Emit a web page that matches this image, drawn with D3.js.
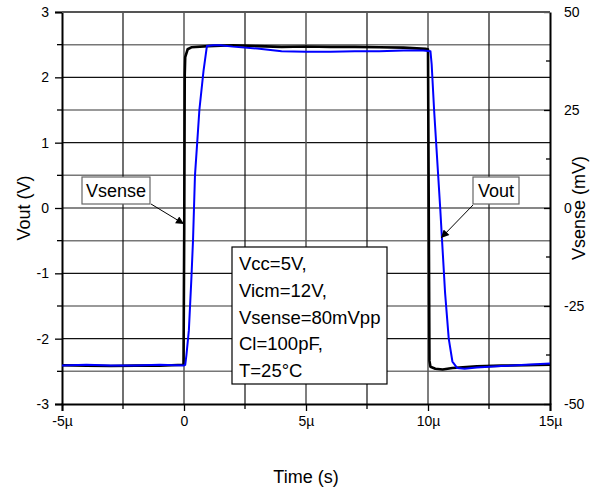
<!DOCTYPE html>
<html>
<head>
<meta charset="utf-8">
<script src="https://cdn.jsdelivr.net/npm/d3@7"></script>
<style>
  body { margin: 0; background: #fff; }
  svg text { font-family: "Liberation Sans", Arial, sans-serif; fill: #000; }
</style>
</head>
<body>
<svg id="chart" width="598" height="493"></svg>
<script>
// time in microseconds
const vsenseTime = [-5, -4, -3, -2, -1, -0.5, -0.02, 0.01, 0.03, 0.05, 0.15, 0.3, 1, 2, 3, 4, 5, 6, 7, 8, 9, 9.9, 10.0, 10.03, 10.06, 10.1, 10.3, 10.6, 11, 12, 13, 14, 15];
// Vsense in mV (right axis)
const vsenseValues = [-40.1, -40.2, -40.3, -40.2, -40.2, -40.1, -40.0, -5, 34, 38.5, 40.5, 41.0, 41.3, 41.5, 41.3, 41.1, 41.2, 41.1, 41.1, 41.0, 40.9, 40.6, 40.5, 0, -39, -40.5, -41.0, -41.2, -40.8, -40.4, -40.2, -40.1, -40.0];

const voutTime = [-5, -4, -3, -2, -1, 0, 0.05, 0.1, 0.2, 0.3, 0.37, 0.45, 0.55, 0.63, 0.8, 0.94, 1.2, 1.5, 2, 3, 4, 5, 6, 7, 8, 9, 9.8, 10.1, 10.15, 10.25, 10.5, 10.7, 10.85, 11.0, 11.2, 11.5, 12, 13, 14, 15];
// Vout in V (left axis)
const voutValues = [-2.41, -2.40, -2.41, -2.41, -2.40, -2.41, -2.40, -2.25, -1.87, -1.1, -0.49, 0.5, 1.05, 1.5, 2.1, 2.48, 2.49, 2.49, 2.47, 2.44, 2.40, 2.39, 2.39, 2.40, 2.40, 2.41, 2.41, 2.40, 2.2, 1.5, 0, -1.3, -2.0, -2.35, -2.45, -2.46, -2.44, -2.42, -2.40, -2.38];

const xTicks = [-5, 0, 5, 10, 15];
const xTickLabels = ['-5µ', '0', '5µ', '10µ', '15µ'];
const xMinor = [-2.5, 2.5, 7.5, 12.5];
const yLeftTicks = [-3, -2, -1, 0, 1, 2, 3];
const yLeftMinor = [-2.5, -1.5, -0.5, 0.5, 1.5, 2.5];
const yRightTicks = [-50, -25, 0, 25, 50];
const yRightMinor = [-37.5, -12.5, 12.5, 37.5];

const conditions = ['Vcc=5V,', 'Vicm=12V,', 'Vsense=80mVpp', 'Cl=100pF,', 'T=25°C'];

const svg = d3.select('#chart');
const m = { left: 62, right: 550, top: 12, bottom: 404 };

const x = d3.scaleLinear().domain([-5, 15]).range([m.left, m.right]);
const yL = d3.scaleLinear().domain([-3, 3]).range([m.bottom, m.top]);
const yR = d3.scaleLinear().domain([-50, 50]).range([m.bottom, m.top]);

// plain hyphen for negatives, like the original
const fmt = d => String(d);

// grid
const grid = svg.append('g').attr('class', 'grid');
grid.selectAll('line.hmaj').data(yLeftTicks.slice(1, -1)).join('line').classed('hmaj', true)
  .attr('x1', m.left).attr('x2', m.right).attr('y1', d => yL(d)).attr('y2', d => yL(d))
  .attr('stroke', '#111').attr('stroke-width', 1.2);
grid.selectAll('line.hmin').data(yLeftMinor).join('line').classed('hmin', true)
  .attr('x1', m.left).attr('x2', m.right).attr('y1', d => yL(d)).attr('y2', d => yL(d))
  .attr('stroke', '#777').attr('stroke-width', 1.5);
grid.selectAll('line.vmaj').data(xTicks.slice(1, -1)).join('line').classed('vmaj', true)
  .attr('y1', m.top).attr('y2', m.bottom).attr('x1', d => x(d)).attr('x2', d => x(d))
  .attr('stroke', '#555').attr('stroke-width', 1.5);
grid.selectAll('line.vmin').data(xMinor).join('line').classed('vmin', true)
  .attr('y1', m.top).attr('y2', m.bottom).attr('x1', d => x(d)).attr('x2', d => x(d))
  .attr('stroke', '#111').attr('stroke-width', 1.2);

// axes
const bottomAxis = d3.axisBottom(x).tickValues(xTicks).tickSize(7).tickPadding(3)
  .tickFormat((d, i) => xTickLabels[i]);
const gB = svg.append('g').attr('transform', `translate(0,${m.bottom})`).call(bottomAxis);
gB.selectAll('line.minor').data(xMinor).join('line').classed('minor', true)
  .attr('x1', d => x(d)).attr('x2', d => x(d)).attr('y1', 0).attr('y2', 5).attr('stroke', '#000').attr('stroke-width', 1.3);

const leftAxis = d3.axisLeft(yL).tickValues(yLeftTicks).tickSize(7).tickPadding(6).tickFormat(fmt);
const gL = svg.append('g').attr('transform', `translate(${m.left},0)`).call(leftAxis);
gL.selectAll('line.minor').data(yLeftMinor).join('line').classed('minor', true)
  .attr('y1', d => yL(d)).attr('y2', d => yL(d)).attr('x1', 0).attr('x2', -5).attr('stroke', '#000').attr('stroke-width', 1.3);

const rightAxis = d3.axisRight(yR).tickValues(yRightTicks).tickSizeInner(-6).tickSizeOuter(0).tickPadding(14).tickFormat(fmt);
const gR = svg.append('g').attr('transform', `translate(${m.right},0)`).call(rightAxis);
gR.selectAll('line.minor').data(yRightMinor).join('line').classed('minor', true)
  .attr('y1', d => yR(d)).attr('y2', d => yR(d)).attr('x1', 0).attr('x2', -4).attr('stroke', '#000').attr('stroke-width', 1.3);

[gB, gL, gR].forEach(g => {
  g.select('.domain').attr('stroke', '#000').attr('stroke-width', 2);
  g.selectAll('.tick line').attr('stroke', '#000').attr('stroke-width', 1.3);
  g.selectAll('.tick text').attr('font-size', 14).attr('font-family', '"Liberation Sans", Arial, sans-serif').attr('fill', '#000');
});
gB.selectAll('.tick text').attr('dy', '0.85em');

// top border
svg.append('line').attr('x1', m.left).attr('x2', m.right).attr('y1', m.top).attr('y2', m.top)
  .attr('stroke', '#555').attr('stroke-width', 2);

// traces
const lineR = d3.line().x((d, i) => x(vsenseTime[i])).y(d => yR(d));
const lineL = d3.line().x((d, i) => x(voutTime[i])).y(d => yL(d));
svg.append('path').datum(vsenseValues).attr('d', lineR)
  .attr('fill', 'none').attr('stroke', '#000').attr('stroke-width', 2.6).attr('stroke-linejoin', 'round');
svg.append('path').datum(voutValues).attr('d', lineL)
  .attr('fill', 'none').attr('stroke', '#0000ff').attr('stroke-width', 2).attr('stroke-linejoin', 'round');

// arrow marker
svg.append('defs').append('marker').attr('id', 'arr')
  .attr('viewBox', '0 0 10 10').attr('refX', 10).attr('refY', 5)
  .attr('markerWidth', 10).attr('markerHeight', 8).attr('markerUnits', 'userSpaceOnUse')
  .attr('orient', 'auto')
  .append('path').attr('d', 'M0,0L10,5L0,10z').attr('fill', '#000');

function callout(label, bx, by, bw, bh, x1, y1, x2, y2) {
  svg.append('line').attr('x1', x1).attr('y1', y1).attr('x2', x2).attr('y2', y2)
    .attr('stroke', '#000').attr('stroke-width', 1).attr('marker-end', 'url(#arr)');
  svg.append('rect').attr('x', bx).attr('y', by).attr('width', bw).attr('height', bh)
    .attr('fill', '#fff').attr('stroke', '#666').attr('stroke-width', 1.2);
  svg.append('text').attr('x', bx + bw / 2).attr('y', by + bh / 2 + 6)
    .attr('text-anchor', 'middle').attr('font-size', 18).text(label);
}
callout('Vsense', 82, 177, 68, 27, 151, 204, 184, 224);
callout('Vout', 473, 177, 46, 27, 473, 205, 441, 238);

// conditions box
svg.append('rect').attr('x', 232).attr('y', 247).attr('width', 155).attr('height', 137)
  .attr('fill', '#fff').attr('stroke', '#000').attr('stroke-width', 1.2);
svg.append('g').selectAll('text').data(conditions).join('text')
  .attr('x', 239).attr('y', (d, i) => 270 + i * 26.8)
  .attr('font-size', 18.5).text(d => d);

// axis titles
svg.append('text').attr('x', 306).attr('y', 483).attr('text-anchor', 'middle')
  .attr('font-size', 18).text('Time (s)');
svg.append('text').attr('transform', 'translate(30,208) rotate(-90)').attr('text-anchor', 'middle')
  .attr('font-size', 18).text('Vout (V)');
svg.append('text').attr('transform', 'translate(585,208) rotate(-90)').attr('text-anchor', 'middle')
  .attr('font-size', 18).text('Vsense (mV)');
</script>
</body>
</html>
